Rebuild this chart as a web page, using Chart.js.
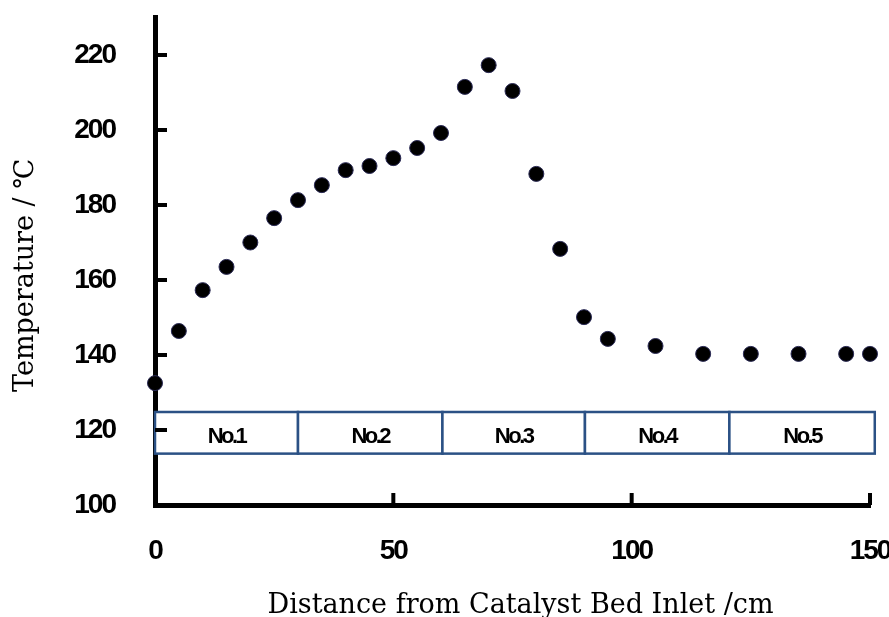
<!DOCTYPE html>
<html>
<head>
<meta charset="utf-8">
<script src="https://cdn.jsdelivr.net/npm/chart.js@4.4.1/dist/chart.umd.min.js"></script>
<style>
  html, body { margin: 0; padding: 0; background: #fff; }
  #wrap { width: 889px; height: 617px; }
</style>
</head>
<body>
<div id="wrap"><canvas id="tempChart" width="889" height="617"></canvas></div>
<script>
// distance from inlet (cm) and measured bed temperature (°C)
const distances = [0, 5, 10, 15, 20, 25, 30, 35, 40, 45, 50, 55, 60, 65, 70, 75, 80, 85, 90, 95, 105, 115, 125, 135, 145, 150];
const temps = [132.5, 146.4, 157.3, 163.5, 170, 176.5, 181.3, 185.3, 189.3, 190.4, 192.5, 195.2, 199.2, 211.5, 217.3, 210.4, 188.3, 168.3, 150.1, 144.3, 142.4, 140.3, 140.3, 140.3, 140.3, 140.3];

// catalyst zones drawn as boxes
const zoneLabels = ['No.1', 'No.2', 'No.3', 'No.4', 'No.5'];
const zoneStarts = [0, 30, 60.3, 90.2, 120.5];
const zoneEnds = [30, 60.3, 90.2, 120.5, 151];
const zoneTop = 124.8;
const zoneBottom = 113.7;

const xTicks = [0, 50, 100, 150];
const yTicks = [100, 120, 140, 160, 180, 200, 220];

const xTitle = 'Distance from Catalyst Bed Inlet /cm';
const yTitle = 'Temperature / ℃';

const titleFont = '27px "DejaVu Serif", serif';

const zonesPlugin = {
    id: 'zones',
    beforeDraw(chart) {
        // tick labels in the original are tightly set
        chart.ctx.letterSpacing = '-2px';
    },
    beforeDatasetsDraw(chart) {
        const ctx = chart.ctx;
        const x = chart.scales.x;
        const y = chart.scales.y;
        const top = y.getPixelForValue(zoneTop);
        const bottom = y.getPixelForValue(zoneBottom);
        ctx.save();
        zoneLabels.forEach((label, i) => {
            const left = x.getPixelForValue(zoneStarts[i]);
            const right = x.getPixelForValue(zoneEnds[i]);
            ctx.fillStyle = '#fff';
            ctx.fillRect(left, top, right - left, bottom - top);
            ctx.strokeStyle = '#2b5185';
            ctx.lineWidth = 2.5;
            ctx.strokeRect(left, top, right - left, bottom - top);
            ctx.fillStyle = '#000';
            ctx.letterSpacing = '-2.5px';
            ctx.font = 'bold 22px "Liberation Sans", Arial, sans-serif';
            ctx.textAlign = 'center';
            ctx.textBaseline = 'middle';
            ctx.fillText(label, (left + right) / 2, (top + bottom) / 2 + 4);
        });
        ctx.restore();
    },
    afterDraw(chart) {
        const ctx = chart.ctx;
        const x = chart.scales.x;
        const y = chart.scales.y;
        const area = chart.chartArea;
        ctx.save();
        // tick marks point inward
        ctx.strokeStyle = '#000';
        ctx.lineWidth = 4;
        yTicks.forEach(v => {
            const py = y.getPixelForValue(v);
            ctx.beginPath();
            ctx.moveTo(area.left, py);
            ctx.lineTo(area.left + 12, py);
            ctx.stroke();
        });
        xTicks.forEach(v => {
            const px = x.getPixelForValue(v);
            ctx.beginPath();
            ctx.moveTo(px, area.bottom);
            ctx.lineTo(px, area.bottom - 12);
            ctx.stroke();
        });
        // axis titles
        ctx.letterSpacing = '0px';
        ctx.fillStyle = '#000';
        ctx.font = titleFont;
        ctx.textAlign = 'center';
        ctx.textBaseline = 'alphabetic';
        ctx.fillText(xTitle, (area.left + area.right) / 2 + 8, 613);
        ctx.translate(33, (area.top + area.bottom) / 2 + 14);
        ctx.rotate(-Math.PI / 2);
        ctx.fillText(yTitle, 0, 0);
        ctx.restore();
    }
};

const tickFont = { family: '"Liberation Sans", Arial, sans-serif', size: 28, weight: 'bold' };

new Chart(document.getElementById('tempChart').getContext('2d'), {
    type: 'scatter',
    data: {
        datasets: [{
            data: distances.map((d, i) => ({ x: d, y: temps[i] })),
            pointRadius: 7.5,
            pointHoverRadius: 7.5,
            pointBackgroundColor: '#000',
            pointBorderColor: '#2a2a55',
            pointBorderWidth: 1,
            clip: false
        }]
    },
    options: {
        responsive: false,
        animation: false,
        layout: { padding: { top: 17.5, right: 19, left: 0, bottom: 0 } },
        plugins: { legend: { display: false }, tooltip: { enabled: false } },
        scales: {
            x: {
                type: 'linear',
                min: 0,
                max: 150,
                afterBuildTicks(scale) { scale.ticks = xTicks.map(v => ({ value: v })); },
                afterFit(scale) {
                    scale.height = 112;
                    scale.paddingLeft = 0;
                    scale.paddingRight = 0;
                },
                grid: { display: false, drawTicks: false },
                border: { display: true, color: '#000', width: 5 },
                ticks: { font: tickFont, color: '#000', padding: 29, maxRotation: 0 }
            },
            y: {
                min: 100,
                max: 230,
                afterBuildTicks(scale) { scale.ticks = yTicks.map(v => ({ value: v })); },
                afterFit(scale) {
                    scale.width = 155;
                    scale.paddingTop = 0;
                    scale.paddingBottom = 0;
                },
                grid: { display: false, drawTicks: false },
                border: { display: true, color: '#000', width: 5 },
                ticks: { font: tickFont, color: '#000', padding: 40 }
            }
        }
    },
    plugins: [zonesPlugin]
});
</script>
</body>
</html>
